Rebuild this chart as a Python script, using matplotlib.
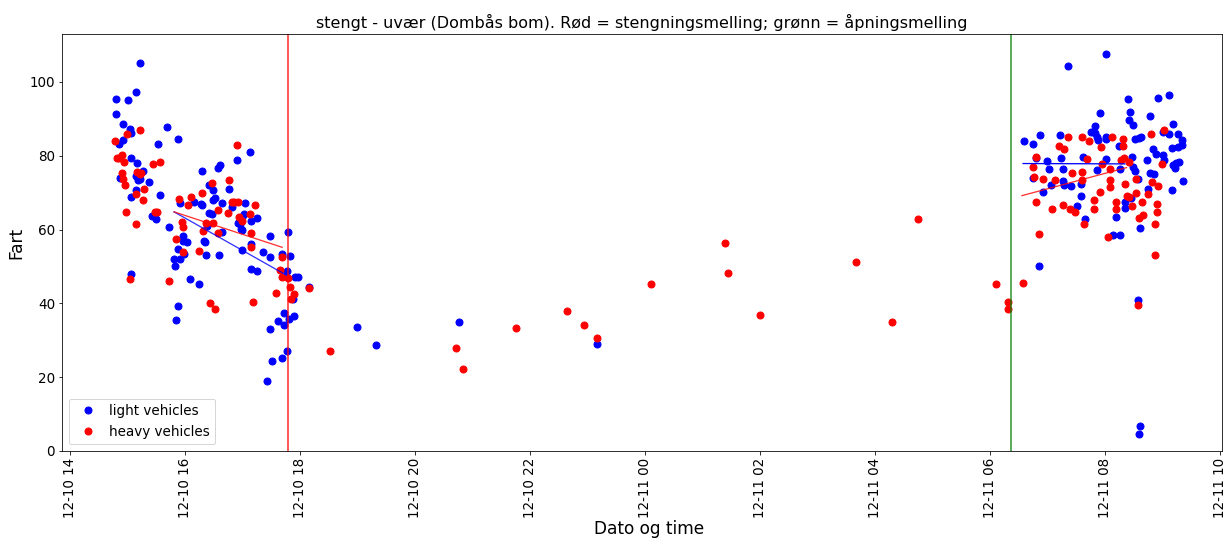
import matplotlib
matplotlib.use("Agg")
import matplotlib.pyplot as plt
import matplotlib.dates as mdates
import numpy as np
import pandas as pd

# hours counted from 2018-12-10 00:00, speeds in km/h
light_hours = [
    14.80, 15.01, 15.14, 15.22, 14.80, 14.92, 15.05, 15.06, 15.68, 14.92, 14.85, 15.88,
    15.53, 15.06, 15.17, 15.27, 15.15, 15.19, 15.22, 15.14, 14.87, 15.37, 15.06, 15.57,
    15.43, 15.50, 15.72, 15.06, 17.13, 16.90, 16.30, 16.60, 16.57, 16.41, 16.48, 16.77,
    16.53, 16.48, 16.15, 16.28, 16.30, 16.65, 15.92, 16.81, 17.05, 16.41, 16.47, 17.03,
    17.00, 16.92, 16.96, 17.14, 17.26, 16.97, 17.00, 16.65, 16.38, 17.47, 15.96, 15.97,
    16.03, 16.33, 16.34, 17.00, 17.14, 15.87, 15.98, 15.81, 15.92, 15.82, 16.37, 16.59,
    17.35, 17.47, 17.80, 17.15, 17.26, 17.68, 17.82, 17.78, 17.92, 17.97, 18.16, 16.09,
    16.24, 15.87, 15.84, 17.87, 17.73, 17.90, 17.81, 17.62, 17.73, 17.48, 17.77, 17.68,
    17.51, 17.43,
    19.00, 19.33, 20.76, 23.17,
    30.85, 31.36, 32.02, 30.60, 30.76, 30.88, 31.22, 30.80, 31.00, 31.24, 30.76, 31.03,
    31.27, 31.27, 31.29, 30.92, 31.06, 31.41, 31.51, 31.58, 31.58, 31.62, 31.76, 31.83,
    31.83, 31.87, 31.89, 31.91, 31.65, 31.87, 32.02, 32.02, 32.02, 32.14, 32.26, 32.19,
    32.24, 32.27, 32.40, 32.44, 32.43, 32.50, 32.47, 32.49, 32.53, 32.57, 32.45, 32.35,
    32.36, 32.53, 32.59, 32.63, 32.61, 32.58, 32.61, 32.59, 32.74, 32.79, 32.84, 32.89,
    32.78, 32.85, 32.76, 32.93, 33.11, 33.01, 33.12, 33.02, 33.03, 33.19, 33.27, 33.34,
    33.34, 33.28, 33.17, 33.30, 33.24, 33.18, 33.23, 33.36, 33.17,
]
light_speed = [
    95.4, 95.1, 97.2, 105.2, 91.2, 88.5, 87.2, 86.3, 87.8, 84.3, 83.1, 84.5,
    83.2, 79.3, 78.0, 75.9, 74.6, 73.4, 73.7, 70.7, 73.9, 73.0, 68.9, 69.5,
    63.8, 63.0, 60.8, 48.0, 81.0, 78.8, 75.9, 77.4, 76.8, 72.2, 70.7, 70.9,
    68.6, 67.9, 67.4, 67.0, 66.7, 67.1, 67.3, 66.0, 67.1, 64.4, 64.1, 64.1,
    63.5, 61.9, 61.5, 62.4, 63.2, 60.1, 59.8, 59.3, 61.1, 58.3, 58.2, 56.9,
    56.6, 57.0, 56.6, 54.4, 56.1, 54.8, 53.4, 52.0, 52.0, 50.0, 53.0, 53.0,
    53.8, 52.6, 59.3, 49.4, 48.7, 53.5, 52.8, 48.9, 47.2, 47.2, 44.5, 46.6,
    45.3, 39.3, 35.4, 41.2, 37.5, 36.7, 35.9, 35.2, 34.1, 33.1, 27.2, 25.3,
    24.3, 18.9,
    33.6, 28.6, 34.9, 29.1,
    50.2, 104.2, 107.7, 84.0, 83.1, 85.7, 85.7, 79.3, 78.5, 79.5, 74.1, 76.3,
    76.3, 73.3, 72.0, 70.1, 72.1, 71.9, 66.5, 72.3, 69.2, 79.8, 86.5, 88.2,
    86.1, 85.0, 84.3, 91.7, 62.9, 76.2, 85.0, 84.5, 79.0, 58.5, 58.5, 63.4,
    82.6, 76.3, 95.3, 91.8, 89.7, 88.3, 79.6, 77.0, 75.8, 73.8, 68.6, 67.4,
    65.8, 84.5, 84.7, 85.0, 60.3, 40.9, 6.9, 4.5, 78.8, 90.7, 81.9, 80.4,
    75.4, 75.0, 71.0, 95.6, 96.4, 86.5, 86.0, 80.1, 78.9, 88.6, 85.8, 84.3,
    82.9, 82.5, 82.1, 78.4, 78.0, 77.5, 76.7, 73.3, 70.7,
]

heavy_hours = [
    15.22, 14.99, 14.79, 14.82, 14.86, 14.90, 14.93, 14.90, 14.92, 14.96, 15.17, 15.22,
    15.24, 15.44, 15.57, 15.29, 15.14, 15.27, 14.97, 15.47, 15.51, 15.14, 15.05, 15.72,
    16.90, 16.77, 16.47, 16.30, 16.10, 15.90, 16.05, 16.81, 16.85, 16.92, 17.22, 16.57,
    16.74, 16.94, 16.99, 17.13, 16.36, 16.49, 15.95, 15.97, 16.32, 16.57, 17.14, 15.84,
    15.97, 16.25, 17.15, 17.69, 17.65, 17.68, 17.80, 17.82, 18.16, 17.90, 17.84, 17.59,
    16.43, 16.53, 17.18,
    18.53, 20.71, 20.83, 21.76, 22.64, 22.94, 23.17, 24.10, 25.40, 25.44, 26.00, 27.68,
    28.75, 28.30, 30.10, 30.32, 30.31, 30.57,
    30.86, 31.36, 31.21, 31.29, 30.81, 30.76, 30.77, 30.92, 31.14, 30.81, 31.09, 31.28,
    31.39, 31.48, 31.43, 31.61, 31.61, 31.69, 31.72, 31.60, 31.64, 31.81, 31.81, 31.91,
    31.95, 31.93, 32.10, 32.13, 32.09, 32.09, 32.05, 32.20, 32.19, 32.31, 32.32, 32.29,
    32.34, 32.42, 32.36, 32.54, 32.39, 32.43, 32.47, 32.54, 32.64, 32.66, 32.60, 32.57,
    32.81, 32.82, 32.76, 32.93, 32.91, 32.91, 32.88, 32.88, 33.03, 33.00,
]
heavy_speed = [
    87.1, 86.0, 83.9, 79.3, 79.4, 80.3, 78.4, 75.4, 73.7, 72.0, 75.7, 75.1,
    75.4, 77.8, 78.2, 70.9, 69.6, 68.1, 64.8, 64.7, 64.9, 61.6, 46.5, 46.1,
    82.9, 73.4, 72.5, 69.8, 68.9, 68.4, 66.6, 67.4, 67.5, 67.6, 66.7, 65.2,
    64.5, 63.3, 62.2, 64.2, 61.9, 61.7, 62.1, 60.8, 59.7, 59.2, 59.2, 57.5,
    53.8, 54.2, 55.2, 52.5, 49.0, 47.2, 46.8, 44.5, 44.2, 42.5, 41.1, 42.9,
    40.1, 38.5, 40.4,
    27.1, 27.9, 22.1, 33.3, 38.0, 34.1, 30.6, 45.3, 56.5, 48.2, 36.9, 51.2,
    63.0, 34.9, 45.3, 40.4, 38.6, 45.5,
    58.8, 85.2, 82.7, 81.8, 79.8, 76.9, 74.3, 73.8, 73.5, 67.6, 65.5, 66.6,
    65.5, 64.8, 75.3, 75.5, 85.0, 79.0, 84.0, 73.4, 61.6, 68.0, 65.5, 70.1,
    77.7, 82.4, 76.3, 85.2, 73.4, 71.5, 58.0, 67.4, 65.5, 82.7, 84.6, 78.9,
    79.5, 78.2, 72.3, 73.8, 69.2, 68.9, 66.5, 69.9, 67.6, 64.0, 63.1, 39.6,
    85.9, 73.0, 69.6, 71.7, 67.0, 64.8, 61.6, 53.1, 87.0, 77.8,
]

# trend lines before closing and after opening (start/end hour, start/end speed)
trend_before_hours = [15.81, 17.77]
trend_before_light = [64.8, 47.6]
trend_before_heavy_hours = [15.81, 17.69]
trend_before_heavy = [64.8, 55.2]
trend_after_hours = [30.58, 32.35]
trend_after_light = [77.9, 77.8]
trend_after_heavy_hours = [30.56, 32.38]
trend_after_heavy = [69.2, 76.8]

closing_hour = 17.79   # stengningsmelding
opening_hour = 30.37   # åpningsmelding
x_range_hours = [13.86, 34.04]

base = pd.Timestamp("2018-12-10 00:00")


def to_time(hours):
    return base + pd.to_timedelta(np.asarray(hours), unit="h")


fig = plt.figure(figsize=(1225 / 72, 539 / 72), dpi=72)
ax = fig.add_axes([62 / 1225, 1 - 451 / 539, 1160 / 1225, 417 / 539])

ax.plot(to_time(light_hours), light_speed, "o", color="blue", markersize=7, label="light vehicles")
ax.plot(to_time(heavy_hours), heavy_speed, "o", color="red", markersize=7, label="heavy vehicles")

ax.plot(to_time(trend_before_hours), trend_before_light, color="blue", linewidth=1.3, alpha=0.8)
ax.plot(to_time(trend_before_heavy_hours), trend_before_heavy, color="red", linewidth=1.3, alpha=0.8)
ax.plot(to_time(trend_after_hours), trend_after_light, color="blue", linewidth=1.3)
ax.plot(to_time(trend_after_heavy_hours), trend_after_heavy, color="red", linewidth=1.3, alpha=0.8)

ax.axvline(to_time([closing_hour])[0], color="red", linewidth=1.6, alpha=0.8)
ax.axvline(to_time([opening_hour])[0], color="green", linewidth=1.6, alpha=0.8)

ax.set_xlim(to_time(x_range_hours))
ax.set_ylim(0, 113)
ax.xaxis.set_major_locator(mdates.HourLocator(byhour=range(0, 24, 2)))
ax.xaxis.set_major_formatter(mdates.DateFormatter("%m-%d %H"))
plt.setp(ax.get_xticklabels(), rotation=90)
ax.tick_params(labelsize=13.5)

ax.set_title("stengt - uvær (Dombås bom). Rød = stengningsmelling; grønn = åpningsmelling", fontsize=16)
ax.set_xlabel("Dato og time", fontsize=17)
ax.xaxis.set_label_coords(0.506, -0.165)
ax.set_ylabel("Fart", fontsize=17)
ax.legend(loc="lower left", fontsize=13.5, handletextpad=0.6)

fig.savefig("out.png", dpi=72)
